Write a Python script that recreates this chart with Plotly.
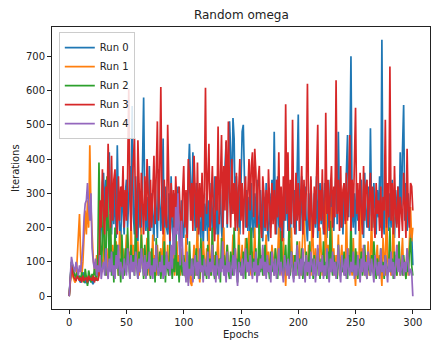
import plotly.graph_objects as go

epochs = list(range(301))

run0 = [
    0, 45, 100, 90, 70, 60, 50, 80, 60, 45,
    40, 55, 70, 45, 38, 60, 35, 50, 45, 60,
    40, 35, 55, 45, 60, 70, 90, 150, 200, 330,
    360, 220, 340, 190, 310, 420, 280, 180, 300, 210,
    350, 170, 440, 250, 200, 150, 320, 220, 180, 300,
    340, 200, 300, 380, 260, 555, 240, 180, 350, 230,
    160, 330, 210, 180, 400, 580, 260, 190, 290, 150,
    380, 190, 300, 200, 160, 330, 220, 170, 370, 240,
    190, 280, 460, 150, 320, 200, 180, 300, 140, 350,
    200, 160, 300, 140, 270, 320, 180, 150, 280, 190,
    170, 300, 210, 150, 350, 445, 330, 220, 420, 250,
    190, 330, 160, 290, 200, 170, 310, 140, 270, 190,
    300, 160, 280, 190, 330, 170, 260, 350, 180, 290,
    160, 270, 310, 190, 150, 300, 380, 450, 200, 320,
    510, 420, 240, 520, 460, 220, 350, 190, 320, 180,
    300, 480, 500, 290, 200, 310, 190, 290, 160, 330,
    210, 170, 300, 200, 340, 220, 180, 310, 200, 160,
    290, 190, 330, 200, 160, 300, 200, 340, 220, 480,
    240, 180, 350, 210, 170, 310, 200, 160, 330, 220,
    360, 190, 300, 170, 290, 340, 200, 310, 180, 420,
    530, 240, 190, 350, 220, 180, 320, 210, 160, 300,
    190, 340, 220, 180, 300, 200, 350, 170, 290, 330,
    210, 310, 180, 330, 220, 170, 300, 200, 340, 220,
    310, 190, 300, 360, 210, 480, 260, 200, 300, 180,
    330, 220, 360, 470, 230, 400, 700, 260, 200, 300,
    180, 330, 220, 310, 190, 340, 230, 170, 360, 240,
    200, 320, 190, 490, 240, 200, 330, 220, 180, 310,
    230, 350, 200, 748, 240, 180, 330, 210, 310, 190,
    300, 200, 340, 220, 170, 310, 210, 320, 190, 420,
    240, 430, 558, 220, 330, 190, 300, 210, 160, 180,
    90,
]

run1 = [
    0, 40, 80, 60, 50, 40, 45, 100, 170, 240,
    120, 60, 100, 200, 250, 180, 280, 200, 440, 260,
    180, 110, 80, 60, 120, 90, 60, 150, 100, 70,
    120, 180, 90, 60, 140, 100, 200, 80, 150, 110,
    70, 160, 100, 60, 190, 120, 80, 140, 60, 110,
    180, 90, 130, 60, 220, 100, 150, 70, 120, 90,
    160, 60, 110, 200, 80, 140, 60, 120, 170, 90,
    60, 130, 100, 180, 70, 120, 60, 150, 90, 110,
    140, 60, 170, 200, 100, 80, 150, 60, 120, 90,
    70, 130, 60, 100, 160, 80, 120, 60, 140, 90,
    110, 60, 180, 80, 50, 120, 40, 30, 90, 150,
    60, 120, 200, 80, 40, 130, 70, 160, 100, 60,
    140, 80, 200, 60, 110, 170, 70, 120, 50, 100,
    180, 60, 110, 80, 140, 200, 60, 100, 150, 80,
    60, 120, 90, 180, 70, 140, 100, 60, 200, 110,
    80, 150, 60, 100, 170, 70, 120, 190, 80, 60,
    130, 90, 200, 70, 110, 60, 160, 100, 80, 140,
    60, 110, 180, 70, 130, 90, 60, 150, 100, 80,
    140, 60, 120, 200, 80, 100, 60, 170, 90, 30,
    110, 60, 150, 80, 200, 70, 120, 90, 60, 140,
    80, 160, 60, 110, 190, 260, 130, 100, 60, 150,
    90, 60, 230, 120, 70, 140, 80, 110, 60, 200,
    100, 60, 130, 90, 290, 70, 150, 60, 110, 260,
    80, 140, 60, 120, 90, 180, 60, 110, 150, 70,
    120, 60, 250, 90, 140, 70, 110, 60, 170, 80,
    30, 130, 60, 100, 280, 70, 140, 90, 60, 120,
    80, 160, 60, 110, 240, 70, 130, 60, 100, 150,
    60, 120, 80, 30, 170, 90, 60, 280, 110, 70,
    140, 60, 100, 250, 70, 120, 60, 150, 90, 60,
    110, 170, 60, 100, 80, 140, 60, 200, 260, 160,
    200,
]

run2 = [
    0, 45, 100, 85, 70, 60, 55, 70, 50, 60,
    45, 70, 55, 40, 80, 60, 30, 75, 50, 40,
    65, 50, 80, 60, 45, 120, 390, 200, 80, 150,
    280, 120, 60, 350, 180, 90, 240, 60, 130, 40,
    200, 80, 150, 60, 110, 40, 180, 90, 60, 140,
    70, 200, 100, 50, 150, 80, 120, 60, 240, 90,
    50, 130, 70, 180, 100, 50, 150, 80, 60, 200,
    90, 50, 140, 70, 110, 40, 170, 80, 60, 130,
    50, 100, 70, 160, 40, 120, 80, 60, 150, 90,
    50, 110, 70, 180, 60, 100, 40, 140, 80, 60,
    120, 70, 50, 100, 40, 160, 80, 60, 110, 50,
    90, 140, 60, 100, 50, 170, 80, 120, 60, 90,
    50, 150, 70, 110, 60, 200, 80, 50, 130, 90,
    60, 110, 40, 170, 80, 120, 60, 100, 150, 70,
    50, 130, 90, 60, 200, 80, 110, 40, 150, 70,
    100, 60, 130, 80, 50, 170, 90, 60, 120, 200,
    80, 110, 60, 140, 50, 100, 210, 70, 120, 60,
    90, 150, 60, 110, 80, 50, 130, 70, 100, 60,
    140, 80, 50, 120, 70, 190, 90, 60, 110, 150,
    70, 100, 210, 60, 130, 80, 50, 120, 90, 160,
    60, 110, 80, 140, 50, 100, 70, 130, 60, 90,
    160, 70, 110, 50, 120, 80, 60, 140, 90, 50,
    110, 70, 160, 60, 100, 50, 130, 80, 220, 90,
    60, 120, 70, 100, 50, 150, 80, 60, 110, 70,
    130, 60, 90, 50, 120, 80, 230, 70, 100, 60,
    140, 80, 50, 110, 70, 130, 60, 90, 150, 70,
    50, 100, 80, 60, 120, 70, 160, 90, 50, 110,
    80, 60, 140, 70, 100, 50, 120, 80, 60, 90,
    200, 70, 110, 50, 130, 80, 60, 100, 160, 70,
    90, 60, 120, 80, 50, 100, 70, 130, 170, 90,
    60,
]

run3 = [
    0, 40, 90, 70, 55, 50, 45, 60, 50, 45,
    55, 40, 60, 45, 50, 55, 40, 60, 48, 52,
    45, 60, 40, 55, 50, 45, 60, 280, 200, 370,
    250, 180, 320, 230, 445, 300, 200, 410, 220, 340,
    370, 240, 180, 350, 220, 320, 260, 380, 200, 310,
    220, 350, 605, 280, 190, 330, 400, 460, 230, 170,
    455, 300, 200, 360, 250, 180, 350, 220, 400, 270,
    190, 340, 200, 300, 410, 210, 330, 510, 220, 350,
    610, 260, 180, 340, 230, 200, 500, 300, 160, 330,
    230, 310, 180, 350, 250, 190, 320, 230, 150, 300,
    380, 200, 310, 170, 400, 350, 220, 330, 190, 410,
    260, 200, 390, 180, 330, 230, 360, 190, 310, 608,
    240, 330, 445, 190, 310, 380, 220, 160, 350, 250,
    495, 210, 330, 470, 200, 380, 250, 455, 210, 510,
    300, 200, 400, 240, 330, 190, 360, 200, 310, 400,
    220, 330, 180, 310, 350, 200, 300, 400, 250, 380,
    420, 230, 430, 360, 200, 340, 380, 220, 170, 350,
    300, 200, 310, 190, 370, 240, 170, 330, 210, 310,
    180, 340, 230, 420, 200, 320, 160, 350, 220, 560,
    240, 420, 190, 340, 210, 515, 250, 180, 360, 220,
    330, 190, 300, 380, 180, 340, 220, 310, 620, 240,
    190, 350, 230, 170, 320, 210, 360, 500, 190, 310,
    220, 370, 200, 180, 535, 240, 340, 190, 310, 380,
    200, 320, 230, 630, 240, 340, 190, 380, 200, 310,
    330, 210, 360, 220, 310, 470, 190, 340, 230, 380,
    550, 240, 330, 190, 360, 250, 180, 380, 220, 320,
    340, 200, 300, 360, 190, 320, 230, 170, 330, 240,
    280, 190, 320, 170, 290, 250, 515, 200, 330, 230,
    670, 220, 330, 180, 380, 240, 200, 320, 170, 290,
    250, 190, 360, 230, 170, 430, 250, 200, 330, 320,
    250,
]

run4 = [
    0, 50, 115, 95, 80, 70, 100, 85, 60, 90,
    70, 110, 150, 230, 270, 280, 330, 260, 220, 300,
    140, 100, 80, 110, 60, 90, 70, 120, 50, 80,
    100, 60, 140, 80, 50, 110, 70, 130, 60, 90,
    50, 120, 80, 150, 60, 100, 70, 50, 110, 80,
    60, 140, 90, 50, 120, 70, 100, 60, 130, 80,
    50, 110, 70, 140, 90, 60, 120, 50, 100, 80,
    130, 60, 90, 50, 110, 70, 150, 80, 60, 100,
    70, 120, 50, 90, 60, 130, 80, 100, 60, 150,
    80, 200, 120, 260, 180, 300, 150, 90, 220, 120,
    60, 100, 40, 130, 30, 80, 60, 110, 40, 90,
    120, 60, 100, 50, 140, 70, 90, 40, 110, 80,
    60, 130, 50, 100, 70, 150, 60, 90, 40, 120,
    80, 50, 110, 70, 160, 60, 90, 40, 130, 70,
    100, 50, 80, 120, 60, 140, 70, 30, 100, 80,
    60, 110, 50, 90, 140, 70, 100, 60, 120, 80,
    50, 100, 70, 130, 40, 90, 60, 110, 80, 150,
    60, 100, 50, 120, 70, 90, 40, 130, 80, 60,
    110, 50, 90, 140, 60, 100, 70, 40, 120, 80,
    60, 110, 50, 90, 130, 70, 40, 100, 60, 150,
    80, 50, 110, 60, 140, 90, 40, 120, 70, 100,
    50, 130, 80, 60, 110, 40, 90, 150, 60, 100,
    70, 120, 50, 90, 60, 140, 80, 40, 110, 70,
    130, 60, 100, 50, 90, 150, 70, 40, 120, 80,
    60, 110, 50, 140, 80, 60, 100, 70, 130, 50,
    90, 60, 120, 80, 40, 110, 70, 150, 60, 100,
    50, 130, 80, 60, 110, 70, 40, 120, 90, 60,
    100, 50, 140, 70, 90, 60, 120, 80, 40, 110,
    70, 130, 60, 100, 50, 90, 150, 70, 110, 60,
    80, 120, 60, 100, 70, 140, 90, 60, 80, 70,
    0,
]

series = [
    ("Run 0", run0, "#1f77b4"),
    ("Run 1", run1, "#ff7f0e"),
    ("Run 2", run2, "#2ca02c"),
    ("Run 3", run3, "#d62728"),
    ("Run 4", run4, "#9467bd"),
]

x_ticks = [0, 50, 100, 150, 200, 250, 300]
y_ticks = [0, 100, 200, 300, 400, 500, 600, 700]

fig = go.Figure()
for name, values, color in series:
    fig.add_trace(go.Scatter(
        x=epochs, y=values, mode="lines", name=name,
        line=dict(color=color, width=1.7),
    ))

font = dict(family="DejaVu Sans", color="#222222")

axis_common = dict(
    showline=True, linecolor="#222222", linewidth=1, mirror=True,
    ticks="outside", ticklen=4, tickcolor="#222222", tickwidth=1,
    showgrid=False, zeroline=False, tickfont=dict(size=10, **font),
)

fig.update_layout(
    width=431, height=341,
    margin=dict(l=52, r=1, t=27, b=32),
    paper_bgcolor="white", plot_bgcolor="white",
    font=font,
    title=dict(text="Random omega", x=0.56, xanchor="center",
               y=1 - 15 / 341, yanchor="middle",
               font=dict(size=12, **font)),
    xaxis=dict(range=[-15, 315], tickvals=x_ticks, **axis_common),
    yaxis=dict(range=[-37.4, 785.4], tickvals=y_ticks, **axis_common),
    showlegend=True,
    legend=dict(x=0.018, y=0.982, xanchor="left", yanchor="top",
                bgcolor="rgba(255,255,255,0.85)", bordercolor="#cccccc",
                borderwidth=1, font=dict(size=10, **font),
                tracegroupgap=0, itemwidth=30),
    annotations=[
        dict(text="Epochs", xref="paper", yref="paper", x=0.5, y=-0.089,
             xanchor="center", yanchor="middle", showarrow=False,
             font=dict(size=10, **font)),
        dict(text="Iterations", xref="paper", yref="paper", x=-0.098, y=0.5,
             xanchor="center", yanchor="middle", textangle=-90,
             showarrow=False, font=dict(size=10, **font)),
    ],
)

fig.write_html("out.html")
